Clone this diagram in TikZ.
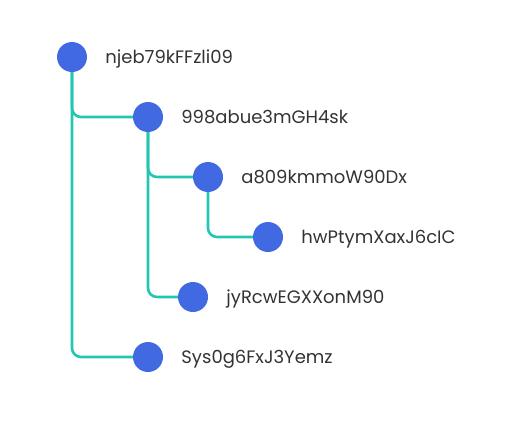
\documentclass[tikz,border=0pt]{standalone}
\usepackage{fontspec}
\setmainfont{Poppins}
\usetikzlibrary{positioning}
\pgfdeclarelayer{back}
\pgfsetlayers{back,main}
\definecolor{dotblue}{HTML}{4169E1}
\definecolor{linkteal}{HTML}{22C6B2}
\definecolor{txtgray}{HTML}{333333}
\tikzset{
  dot/.style={circle, fill=dotblue, minimum size=30pt, inner sep=0pt},
  txt/.style={text=txtgray, inner sep=0pt, anchor=base west, yshift=-6.5pt,
    font=\fontsize{18}{22}\selectfont},
  link/.style={linkteal, line width=2.6pt, rounded corners=9pt},
}
\begin{document}
\begin{tikzpicture}[x=1pt,y=-1pt]
\useasboundingbox (0,0) rectangle (505,433);
%%% the tree nodes
\node[dot] (root) at (72,57) {};
\node[dot] (n1) at (148,117) {};
\node[dot] (n2) at (208,177) {};
\node[dot] (n3) at (268,237) {};
\node[dot] (n4) at (193,297) {};
\node[dot] (n5) at (148,357) {};
%
\node[right=18pt of root, txt] (root-l) {njeb79kFFzli09};
\node[right=18pt of n1, txt] (n1-l) {998abue3mGH4sk};
\node[right=18pt of n2, txt] (n2-l) {a809kmmoW90Dx};
\node[right=18pt of n3, txt] (n3-l) {hwPtymXaxJ6cIC};
\node[right=18pt of n4, txt] (n4-l) {jyRcwEGXXonM90};
\node[right=18pt of n5, txt] (n5-l) {Sys0g6FxJ3Yemz};
%%% connectors behind the dots
\begin{pgfonlayer}{back}
\draw[link] (root.center) |- (n1.center);
\draw[link] (root.center) |- (n5.center);
\draw[link] (n1.center) |- (n2.center);
\draw[link] (n1.center) |- (n4.center);
\draw[link] (n2.center) |- (n3.center);
\end{pgfonlayer}
\end{tikzpicture}
\end{document}
